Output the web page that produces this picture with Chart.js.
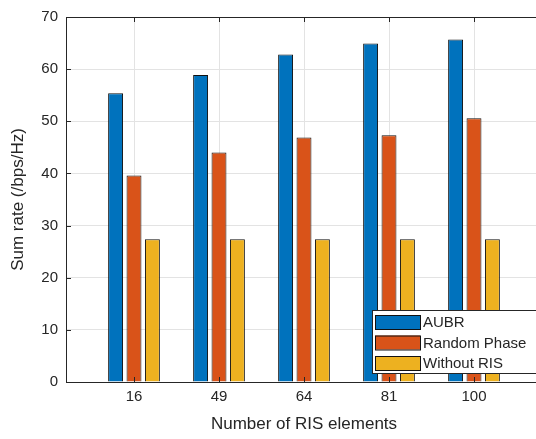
<!DOCTYPE html>
<html>
<head>
<meta charset="utf-8">
<script src="https://cdn.jsdelivr.net/npm/chart.js@4"></script>
<style>
  html, body { margin: 0; padding: 0; background: #fff; overflow: hidden; }
  #wrap { position: relative; width: 546px; height: 439px; }
</style>
</head>
<body>
<div id="wrap"><canvas id="rateChart"></canvas></div>
<script>
// data
const risElements = ['16', '49', '64', '81', '100'];
const groupPositions = [1, 2, 3, 4, 5];
const aubrRate = [55.4, 58.9, 62.8, 64.9, 65.7];
const randomPhaseRate = [39.6, 44.0, 46.9, 47.3, 50.6];
const withoutRisRate = [27.4, 27.4, 27.4, 27.4, 27.4];
const yTicks = [0, 10, 20, 30, 40, 50, 60, 70];

const FONT = "'Liberation Sans', Arial, Helvetica, sans-serif";
const AXIS_COLOR = '#262626';

function toPoints(values) {
    return values.map((v, i) => ({ x: groupPositions[i], y: v }));
}

// MATLAB style box, inward ticks and in-axes legend
const matlabBox = {
    id: 'matlabBox',
    afterDraw(chart) {
        const ctx = chart.ctx;
        const a = chart.chartArea;
        const xs = chart.scales.x, ys = chart.scales.y;
        ctx.save();
        ctx.strokeStyle = AXIS_COLOR;
        ctx.lineWidth = 1;
        ctx.beginPath();
        // top line of box
        ctx.moveTo(a.left, a.top + 0.5);
        ctx.lineTo(a.right, a.top + 0.5);
        ctx.moveTo(a.right - 0.5, a.top);
        ctx.lineTo(a.right - 0.5, a.bottom);
        groupPositions.forEach(p => {
            const px = Math.round(xs.getPixelForValue(p)) + 0.5;
            ctx.moveTo(px, a.top); ctx.lineTo(px, a.top + 5);
            ctx.moveTo(px, a.bottom); ctx.lineTo(px, a.bottom - 5);
        });
        yTicks.forEach(t => {
            const py = Math.round(ys.getPixelForValue(t)) + 0.5;
            ctx.moveTo(a.left, py); ctx.lineTo(a.left + 5, py);
        });
        ctx.stroke();

        // legend
        const lx = 372, ly = 310, lw = 180, lh = 63;
        ctx.fillStyle = '#fff';
        ctx.fillRect(lx, ly, lw, lh);
        ctx.strokeStyle = AXIS_COLOR;
        ctx.strokeRect(lx + 0.5, ly + 0.5, lw, lh);
        ctx.font = '15px ' + FONT;
        ctx.textBaseline = 'middle';
        chart.data.datasets.forEach((ds, i) => {
            const cy = 322 + i * 20.5;
            ctx.fillStyle = ds.backgroundColor;
            ctx.fillRect(375, cy - 7, 45, 14);
            ctx.strokeStyle = '#111';
            ctx.strokeRect(375.5, cy - 7 + 0.5, 45, 14);
            ctx.fillStyle = AXIS_COLOR;
            ctx.fillText(ds.label, 423, cy + 1);
        });
        ctx.restore();
    }
};

new Chart(document.getElementById('rateChart'), {
    type: 'bar',
    data: {
        datasets: [{
            label: 'AUBR',
            data: toPoints(aubrRate),
            backgroundColor: '#0072BD',
            borderColor: '#111',
            borderWidth: 1
        }, {
            label: 'Random Phase',
            data: toPoints(randomPhaseRate),
            backgroundColor: '#D95319',
            borderColor: '#111',
            borderWidth: 1
        }, {
            label: 'Without RIS',
            data: toPoints(withoutRisRate),
            backgroundColor: '#EDB120',
            borderColor: '#111',
            borderWidth: 1
        }]
    },
    options: {
        responsive: true,
        maintainAspectRatio: false,
        animation: false,
        categoryPercentage: 0.65,
        barPercentage: 0.81,
        layout: { padding: { left: 0, top: 10, right: 4, bottom: 0 } },
        plugins: {
            legend: { display: false },
            tooltip: { enabled: false }
        },
        scales: {
            x: {
                type: 'linear',
                min: 0.2,
                max: 5.8,
                offset: false,
                afterBuildTicks: scale => {
                    scale.ticks = groupPositions.map(v => ({ value: v }));
                },
                afterFit: scale => { scale.height = 57; },
                grid: { color: '#e3e3e3', drawTicks: false, offset: false },
                border: { color: AXIS_COLOR },
                ticks: {
                    padding: 6,
                    color: AXIS_COLOR,
                    font: { family: FONT, size: 15 },
                    callback: value => risElements[groupPositions.indexOf(value)] ?? ''
                },
                title: {
                    display: true,
                    text: 'Number of RIS elements',
                    color: AXIS_COLOR,
                    font: { family: FONT, size: 17 },
                    padding: { top: 0, bottom: 4 }
                }
            },
            y: {
                min: 0,
                max: 70,
                afterBuildTicks: scale => {
                    scale.ticks = yTicks.map(v => ({ value: v }));
                },
                afterFit: scale => { scale.width = 66; },
                grid: { color: '#e3e3e3', drawTicks: false },
                border: { color: AXIS_COLOR },
                ticks: {
                    padding: 8,
                    color: AXIS_COLOR,
                    font: { family: FONT, size: 15 }
                },
                title: {
                    display: true,
                    text: 'Sum rate (/bps/Hz)',
                    color: AXIS_COLOR,
                    font: { family: FONT, size: 17 },
                    padding: { top: 8, bottom: 0 }
                }
            }
        }
    },
    plugins: [matlabBox]
});
</script>
</body>
</html>
